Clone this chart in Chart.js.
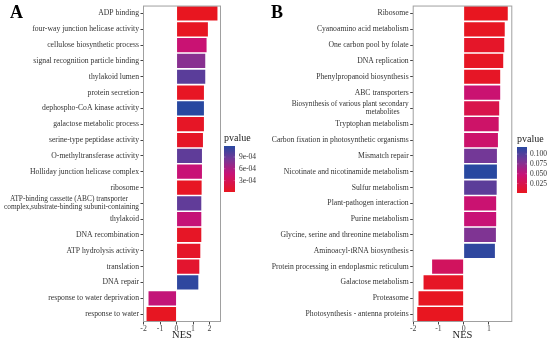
<!DOCTYPE html>
<html>
<head>
<meta charset="utf-8">
<script src="https://cdn.jsdelivr.net/npm/chart.js@4.4.1/dist/chart.umd.min.js"></script>
<style>
  html, body { margin: 0; padding: 0; background: #fff; }
  #wrap { position: relative; width: 550px; height: 343px; overflow: hidden; }
  .panel { position: absolute; top: 0; height: 343px; }
  #boxA { left: 0; width: 270px; }
  #boxB { left: 270px; width: 280px; }
  .tag { position: absolute; top: 2px; line-height: 1; font: bold 18px 'Liberation Serif', 'Times New Roman', serif; color: #000; }
</style>
</head>
<body>
<div id="wrap">
  <div class="panel" id="boxA"><canvas id="chartA" width="270" height="343"></canvas></div>
  <div class="panel" id="boxB"><canvas id="chartB" width="280" height="343"></canvas></div>
  <div class="tag" style="left:10px">A</div>
  <div class="tag" style="left:271px">B</div>
</div>
<script>
// Panel A (GO terms)
const labelsA = [
  'ADP binding',
  'four-way junction helicase activity',
  'cellulose biosynthetic process',
  'signal recognition particle binding',
  'thylakoid lumen',
  'protein secretion',
  'dephospho-CoA kinase activity',
  'galactose metabolic process',
  'serine-type peptidase activity',
  'O-methyltransferase activity',
  'Holliday junction helicase complex',
  'ribosome',
  ['ATP-binding cassette (ABC) transporter      ', 'complex,substrate-binding subunit-containing'],
  'thylakoid',
  'DNA recombination',
  'ATP hydrolysis activity',
  'translation',
  'DNA repair',
  'response to water deprivation',
  'response to water'
];
const nesA = [2.48, 1.90, 1.82, 1.74, 1.74, 1.66, 1.66, 1.66, 1.60, 1.54,
              1.54, 1.52, 1.50, 1.50, 1.50, 1.44, 1.38, 1.32, -1.70, -1.82];
const pvalA = [1.0e-5, 2.0e-5, 4.6e-4, 7.6e-4, 9.6e-4, 3.0e-5, 1.18e-3, 4.0e-5, 5.0e-5, 9.4e-4,
               4.8e-4, 3.0e-5, 9.3e-4, 4.9e-4, 4.0e-5, 6.0e-5, 9.0e-5, 1.15e-3, 5.0e-4, 2.0e-5];
const legendTicksA = [9e-4, 6e-4, 3e-4];
const legendTextA = ['9e-04', '6e-04', '3e-04'];

// Panel B (KEGG pathways)
const labelsB = [
  'Ribosome',
  'Cyanoamino acid metabolism',
  'One carbon pool by folate',
  'DNA replication',
  'Phenylpropanoid biosynthesis',
  'ABC transporters',
  ['Biosynthesis of various plant secondary', 'metabolites     '],
  'Tryptophan metabolism',
  'Carbon fixation in photosynthetic organisms',
  'Mismatch repair',
  'Nicotinate and nicotinamide metabolism',
  'Sulfur metabolism',
  'Plant-pathogen interaction',
  'Purine metabolism',
  'Glycine, serine and threonine metabolism',
  'Aminoacyl-tRNA biosynthesis',
  'Protein processing in endoplasmic reticulum',
  'Galactose metabolism',
  'Proteasome',
  'Photosynthesis - antenna proteins'
];
const nesB = [1.75, 1.63, 1.61, 1.57, 1.45, 1.45, 1.41, 1.39, 1.36, 1.32,
              1.32, 1.31, 1.29, 1.29, 1.28, 1.24, -1.25, -1.59, -1.79, -1.84];
const pvalB = [0.001, 0.002, 0.006, 0.003, 0.004, 0.045, 0.025, 0.040, 0.042, 0.085,
               0.118, 0.095, 0.045, 0.048, 0.080, 0.115, 0.035, 0.004, 0.002, 0.001];
const legendTicksB = [0.100, 0.075, 0.050, 0.025];
const legendTextB = ['0.100', '0.075', '0.050', '0.025'];

const fontFam = "'Liberation Serif', 'Times New Roman', serif";

// red (low p) -> magenta -> purple -> blue (high p)
const colorStops = [
  [0, [232, 22, 32]],
  [0.4, [200, 18, 118]],
  [0.7, [120, 55, 150]],
  [1, [40, 72, 160]]
];

function pColor(p, lo, hi) {
  let t = (p - lo) / (hi - lo);
  t = Math.max(0, Math.min(1, t));
  for (let i = 1; i < colorStops.length; i++) {
    const [t0, c0] = colorStops[i - 1];
    const [t1, c1] = colorStops[i];
    if (t <= t1) {
      const f = (t - t0) / (t1 - t0);
      const c = c0.map((v, k) => Math.round(v + (c1[k] - v) * f));
      return 'rgb(' + c.join(',') + ')';
    }
  }
  return 'rgb(40,72,160)';
}

// panel border + colour bar legend
const panelDeco = {
  id: 'panelDeco',
  afterDraw(chart, args, opts) {
    const ctx = chart.ctx;
    const a = chart.chartArea;
    ctx.save();
    ctx.strokeStyle = '#a0a0a0';
    ctx.lineWidth = 1;
    ctx.strokeRect(a.left + 0.5, a.top + 0.5, a.right - a.left - 1, a.bottom - a.top - 1);

    const { x, top, bottom, width, lo, hi, ticks, tickText, labelGap } = opts;
    const grad = ctx.createLinearGradient(0, bottom, 0, top);
    for (let i = 0; i <= 40; i++) {
      grad.addColorStop(i / 40, pColor(lo + (hi - lo) * i / 40, lo, hi));
    }
    ctx.fillStyle = grad;
    ctx.fillRect(x, top, width, bottom - top);

    ctx.fillStyle = '#222';
    ctx.font = '10px ' + fontFam;
    ctx.textAlign = 'left';
    ctx.textBaseline = 'alphabetic';
    ctx.fillText('pvalue', x, top - 5.5);

    ctx.font = '7.5px ' + fontFam;
    ctx.textBaseline = 'middle';
    ticks.forEach((v, i) => {
      const y = bottom - (v - lo) / (hi - lo) * (bottom - top);
      ctx.strokeStyle = 'rgba(255,255,255,0.5)';
      ctx.lineWidth = 0.5;
      ctx.beginPath();
      ctx.moveTo(x, y); ctx.lineTo(x + 1.5, y);
      ctx.moveTo(x + width - 1.5, y); ctx.lineTo(x + width, y);
      ctx.stroke();
      ctx.fillStyle = '#333';
      ctx.fillText(tickText[i], x + width + labelGap, y);
    });
    ctx.restore();
  }
};

function buildChart(id, labels, nes, pvals, o) {
  const colors = pvals.map(p => pColor(p, o.legend.lo, o.legend.hi));
  return new Chart(document.getElementById(id), {
    type: 'bar',
    data: {
      labels: labels,
      datasets: [{
        data: nes,
        backgroundColor: colors,
        borderWidth: 0,
        categoryPercentage: 0.9,
        barPercentage: 1
      }]
    },
    options: {
      indexAxis: 'y',
      responsive: false,
      animation: false,
      layout: { padding: { left: 0, right: o.padRight, top: 4, bottom: 0 } },
      plugins: {
        legend: { display: false },
        tooltip: { enabled: false },
        panelDeco: o.legend
      },
      scales: {
        x: {
          min: o.xMin,
          max: o.xMax,
          afterFit: s => { s.height = 21; },
          afterBuildTicks: s => { s.ticks = s.ticks.filter(t => Number.isInteger(t.value)); },
          ticks: {
            stepSize: 1,
            includeBounds: false,
            padding: 0,
            color: '#444',
            font: { family: fontFam, size: 7.8 }
          },
          grid: { drawOnChartArea: false, tickLength: 2.5, color: '#444' },
          border: { display: false },
          title: {
            display: true,
            text: 'NES',
            color: '#222',
            padding: { top: 0, bottom: 1 },
            font: { family: fontFam, size: 10.5 }
          }
        },
        y: {
          afterFit: s => { s.width = o.yWidth; },
          ticks: {
            autoSkip: false,
            padding: 1.5,
            color: '#333',
            // wrapped two-line labels come out a touch narrower in the original
            font: ctx => ({
              family: fontFam,
              size: Array.isArray(labels[ctx.index]) ? 7.35 : 7.7,
              lineHeight: 1.05
            })
          },
          grid: { drawOnChartArea: false, offset: false, tickLength: 2.5, color: '#444' },
          border: { display: false }
        }
      }
    },
    plugins: [panelDeco]
  });
}

buildChart('chartA', labelsA, nesA, pvalA, {
  xMin: -2.035, xMax: 2.695, yWidth: 143, padRight: 49,
  legend: { x: 224, top: 146, bottom: 192, width: 11, lo: 1.0e-5, hi: 1.18e-3,
            ticks: legendTicksA, tickText: legendTextA, labelGap: 4 }
});

buildChart('chartB', labelsB, nesB, pvalB, {
  xMin: -2.02, xMax: 1.93, yWidth: 142.7, padRight: 37.7,
  legend: { x: 247, top: 147, bottom: 193, width: 10, lo: 0.001, hi: 0.118,
            ticks: legendTicksB, tickText: legendTextB, labelGap: 3 }
});
</script>
</body>
</html>
